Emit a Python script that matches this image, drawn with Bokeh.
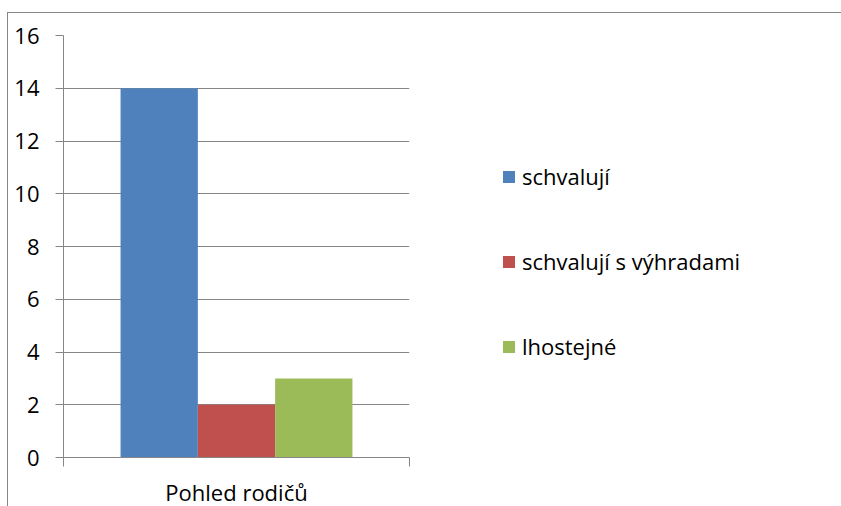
from bokeh.plotting import figure
from bokeh.models import (Range1d, FixedTicker, Legend, LegendItem, ColumnDataSource)
from bokeh.transform import dodge
from bokeh.embed import file_html
from bokeh.resources import INLINE

categories = ["Pohled rodičů"]
series = ["schvalují", "schvalují s výhradami", "lhostejné"]
values = [[14], [2], [3]]
colors = ["#4F81BD", "#C0504D", "#9BBB59"]
y_ticks = [0, 2, 4, 6, 8, 10, 12, 14, 16]

FONT = "Open Sans"
FS = "22px"
GRAY = "#868686"

p = figure(frame_width=346, frame_height=422, x_range=Range1d(0, len(categories)),
           y_range=Range1d(0, 16), output_backend="svg", toolbar_location=None,
           min_border_left=55, min_border_right=5,
           min_border_top=22, min_border_bottom=48)
p.margin = (12, 0, 0, 7)
p.styles = {"border-top": "1px solid " + GRAY, "border-left": "1px solid " + GRAY}
p.outline_line_color = None
p.background_fill_color = "white"
p.border_fill_color = "white"

cat_pos = [i + 0.5 for i in range(len(categories))]
src = ColumnDataSource(dict(cat=categories, pos=cat_pos,
                            **{f"s{i}": v for i, v in enumerate(values)}))
bw = 0.2234
renderers = []
for i, (name, col) in enumerate(zip(series, colors)):
    r = p.vbar(x=dodge("pos", (i - 1) * bw), top=f"s{i}", width=bw,
               bottom=0, source=src, fill_color=col, line_color=None)
    renderers.append(r)

p.xgrid.visible = False
p.ygrid.grid_line_color = GRAY
p.ygrid.grid_line_width = 1
p.ygrid.ticker = FixedTicker(ticks=y_ticks)

ya = p.yaxis[0]
ya.ticker = FixedTicker(ticks=y_ticks, minor_ticks=[])
ya.axis_line_color = GRAY
ya.major_tick_line_color = GRAY
ya.major_tick_out = 8
ya.major_tick_in = 0
ya.minor_tick_out = 0
ya.major_label_standoff = 16
ya.major_label_text_font = FONT
ya.major_label_text_font_size = FS
ya.major_label_text_color = "black"

xa = p.xaxis[0]
xa.ticker = FixedTicker(ticks=cat_pos, minor_ticks=list(range(len(categories) + 1)))
xa.major_label_overrides = {pos: c for pos, c in zip(cat_pos, categories)}
xa.axis_line_color = GRAY
xa.major_tick_out = 0
xa.major_tick_in = 0
xa.minor_tick_out = 9
xa.minor_tick_in = 0
xa.minor_tick_line_color = GRAY
xa.major_label_standoff = 10
xa.major_label_text_font = FONT
xa.major_label_text_font_size = FS
xa.major_label_text_color = "black"

legend = Legend(items=[LegendItem(label=s, renderers=[r]) for s, r in zip(series, renderers)],
                location=(92, 95), orientation="vertical")
legend.glyph_width = 15
legend.glyph_height = 15
legend.label_height = 32
legend.label_standoff = 6
legend.spacing = 53
legend.padding = 0
legend.margin = 0
legend.border_line_color = None
legend.background_fill_alpha = 0
legend.label_text_font = FONT
legend.label_text_font_size = FS
legend.label_text_color = "black"
p.add_layout(legend, "right")

open("out.html", "w").write(file_html(p, INLINE))
